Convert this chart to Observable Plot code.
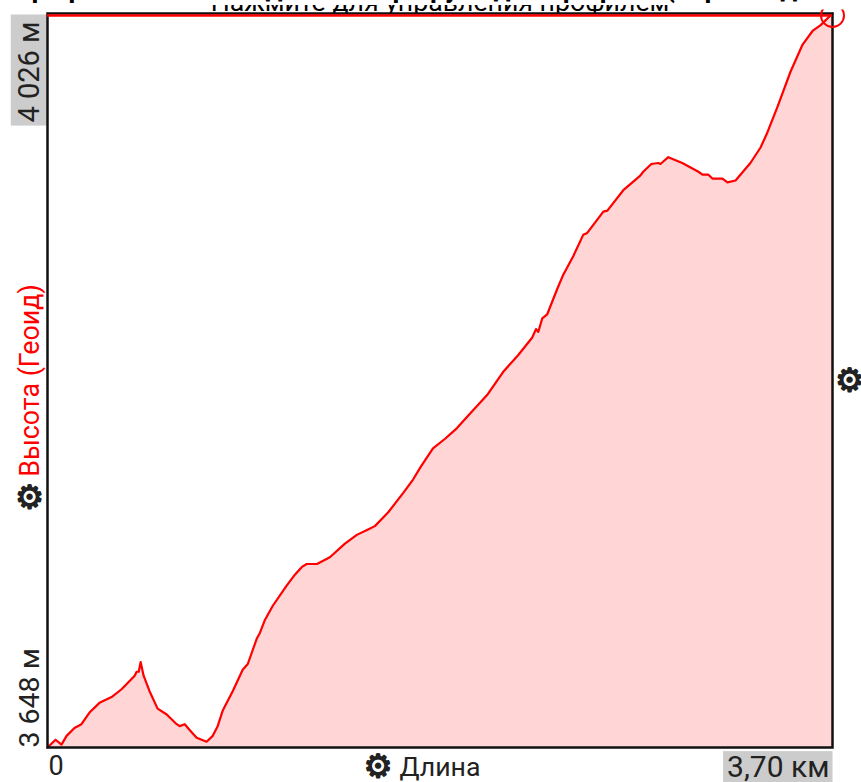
<!DOCTYPE html>
<html><head><meta charset="utf-8">
<style>html,body{margin:0;padding:0;background:#fff}svg{display:block}</style>
<script src="https://cdn.jsdelivr.net/npm/d3@7"></script>
<script src="https://cdn.jsdelivr.net/npm/@observablehq/plot@0.6"></script>
</head><body><div id="c"></div><script>
const km=[0,.038,.066,.090,.127,.160,.198,.245,.302,.349,.411,.420,.430,.439,.453,.481,.519,.562,.609,.623,.647,.670,.703,.750,.779,.802,.826,.873,.920,.944,.986,1.001,1.024,1.062,1.128,1.166,1.199,1.222,1.270,1.331,1.402,1.458,1.506,1.543,1.605,1.676,1.723,1.756,1.780,1.817,1.874,1.930,1.992,2.072,2.148,2.218,2.284,2.303,2.313,2.332,2.355,2.402,2.431,2.478,2.525,2.544,2.620,2.639,2.714,2.794,2.808,2.846,2.879,2.889,2.926,2.992,3.068,3.087,3.115,3.134,3.181,3.205,3.243,3.313,3.361,3.394,3.441,3.502,3.559,3.606,3.644,3.70];
const alt=[3648,3652,3649.5,3654,3658,3660,3666,3671,3674,3678,3685,3687,3687,3692,3685,3677,3668,3665,3660,3659,3660,3657,3653,3651,3654,3659,3667,3677,3688,3691,3704,3707,3713.5,3721,3731.5,3737,3741,3742.5,3742.5,3746,3753,3757.5,3760,3762,3769,3779,3786,3792,3796,3802,3807,3812.5,3820,3829.5,3841.5,3850,3859,3863.5,3862,3869,3871,3884,3891.5,3901,3912,3913,3924,3924.5,3935,3942.5,3944.5,3948.5,3949,3948.5,3952,3949,3944.5,3943,3943,3941,3941,3939,3940,3949,3957,3965,3978,3996,4010,4017,4020,4026];
const profile=km.map((d,i)=>({km:d,alt:alt[i]}));
const maxKm=3.70, minAlt=3648, maxAlt=4026;
const titleBold="Профиль высоты и длины маршрута для профиля (через год";
const titleSub="Нажмите для управления профилем";
const labelTop="4 026 м", labelBottom="3 648 м", labelY="Высота (Геоид)", labelX="Длина", label0="0", labelEnd="3,70 км", gear="\u2699";
const font="Roboto, sans-serif";
const one=[0];
const gearStyle={fontSize:32,fill:"#222",stroke:"#222",strokeWidth:1.5,fontFamily:"DejaVu Sans",textAnchor:"middle"};
const chart=Plot.plot({
  width:861,height:782,marginTop:13,marginLeft:47,marginRight:29,marginBottom:35,
  style:{fontFamily:font,background:"#fff",overflow:"hidden"},
  x:{domain:[0,maxKm],axis:null},
  y:{domain:[minAlt,maxAlt],axis:null},
  marks:[
    Plot.text(one,{text:()=>titleSub,frameAnchor:"top",dy:-2.5,dx:0,fontSize:26.7,fill:"#000",lineAnchor:"bottom"}),
    Plot.text(one,{text:()=>titleBold,frameAnchor:"top-left",textAnchor:"start",dy:-17,dx:-35,fontSize:27,fontWeight:"bold",fill:"#000",lineAnchor:"bottom"}),
    Plot.frame({fill:"#fff",stroke:"none"}),
    Plot.areaY(profile,{x:"km",y1:minAlt,y2:"alt",fill:"#ffd5d5",curve:"linear"}),
    Plot.line(profile,{x:"km",y:"alt",stroke:"#f00",strokeWidth:2.2,curve:"linear"}),
    Plot.frame({stroke:"#111",strokeWidth:2.5}),
    Plot.ruleY([maxAlt],{stroke:"#f00",strokeWidth:2.5,dy:2}),
    Plot.dot([{km:maxKm,alt:maxAlt}],{x:"km",y:"alt",r:11.5,stroke:"#f00",strokeWidth:2,fill:"none",dy:2,clip:false}),
    Plot.text(one,{text:()=>labelTop,x:()=>0,y:()=>maxAlt,rotate:-90,textAnchor:"end",dx:-18,dy:8,fontSize:29,fill:"#222"}),
    Plot.text(one,{text:()=>labelBottom,x:()=>0,y:()=>minAlt,rotate:-90,textAnchor:"start",dx:-18,fontSize:28.5,fill:"#222"}),
    Plot.text(one,{text:()=>labelY,frameAnchor:"left",rotate:-90,textAnchor:"middle",dx:-17,dy:0,fontSize:26.8,fill:"#f00"}),
    Plot.text(one,{...gearStyle,text:()=>gear,frameAnchor:"left",dx:-18,dy:117}),
    Plot.text(one,{...gearStyle,text:()=>gear,frameAnchor:"right",dx:17,dy:0}),
    Plot.text(one,{...gearStyle,text:()=>gear,frameAnchor:"bottom",dx:-62,dy:29}),
    Plot.text(one,{text:()=>labelX,x:()=>0,y:()=>minAlt,dx:352,dy:20,textAnchor:"start",fontSize:26.7,fill:"#222"}),
    Plot.text(one,{text:()=>label0,x:()=>0,y:()=>minAlt,textAnchor:"start",dx:1,dy:19,fontSize:27,fill:"#222"}),
    Plot.text(one,{text:()=>labelEnd,x:()=>maxKm,y:()=>minAlt,textAnchor:"end",dx:-3,dy:20,fontSize:30,fill:"#222"})
  ]
});
document.getElementById("c").append(chart);
const svg=d3.select(chart), sb=chart.getBoundingClientRect();
const boxes=new Map([[labelTop,[1,7,1,3]],[labelEnd,[4,-2,3,-2]]]);
svg.selectAll("text").each(function(){
  const p=boxes.get(this.textContent);
  if(!p)return;
  const b=this.getBoundingClientRect();
  svg.insert("rect",":first-child").attr("fill","#ccc")
    .attr("x",b.left-sb.left-p[0]).attr("y",b.top-sb.top-p[1])
    .attr("width",b.width+p[0]+p[2]).attr("height",b.height+p[1]+p[3]);
});
svg.selectAll("circle").style("clip-path","inset(7px 0 0 0) view-box");
svg.selectAll("text").filter(function(){return this.textContent===titleBold}).each(function(){
  const g=this.parentNode;
  const band=document.createElementNS("http://www.w3.org/2000/svg","rect");
  band.setAttribute("width",861);band.setAttribute("height",5);band.setAttribute("fill","#fff");
  g.parentNode.insertBefore(band,g);
});
</script></body></html>
